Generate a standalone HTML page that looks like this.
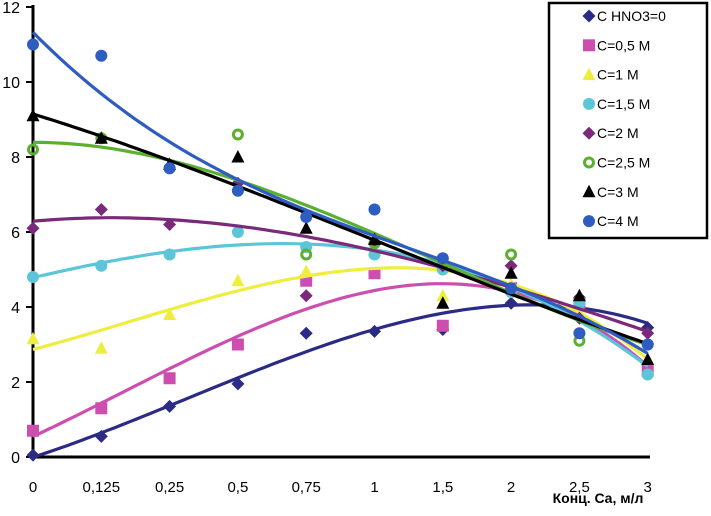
<!DOCTYPE html>
<html><head><meta charset="utf-8"><style>
body{margin:0;background:#fff;font-family:"Liberation Sans",sans-serif}
</style></head><body>
<svg id="c" width="711" height="511" xmlns="http://www.w3.org/2000/svg"></svg>
<script>
const categories=["0","0,125","0,25","0,5","0,75","1","1,5","2","2,5","3"];
const yTicks=[0,2,4,6,8,10,12];
const seriesNames=["C HNO3=0","C=0,5 M","C=1 M","C=1,5 M","C=2 M","C=2,5 M","C=3 M","C=4 M"];
const s0=[0.05,0.55,1.35,1.95,3.3,3.35,3.4,4.1,4.25,3.45];
const s1=[0.7,1.3,2.1,3.0,4.7,4.9,3.5,4.5,4.1,2.3];
const s2=[3.15,2.9,3.8,4.7,4.95,5.5,4.3,4.6,4.0,2.6];
const s3=[4.8,5.1,5.4,6.0,5.6,5.4,5.0,4.4,4.1,2.2];
const s4=[6.1,6.6,6.2,7.3,4.3,5.7,5.1,5.1,3.7,3.3];
const s5=[8.2,8.5,7.7,8.6,5.4,5.7,5.2,5.4,3.1,3.0];
const s6=[9.1,8.5,7.8,8.0,6.1,5.8,4.1,4.9,4.3,2.6];
const s7=[11.0,10.7,7.7,7.1,6.4,6.6,5.3,4.5,3.3,3.0];
const series=[s0,s1,s2,s3,s4,s5,s6,s7];
const colors=["#2b2b85","#cc4fb0","#eeee40","#5cc6d8","#7a2a7a","#5cb030","#000000","#2f5cc0"];
const shapes=["diamond","square","triangle","circle","diamond","ring","triangle","circle"];
const svg=document.getElementById('c');const NS="http://www.w3.org/2000/svg";
function xs(i){return 33+i*68.3;}
function ys(v){return 457-v*37.5;}
function mk(t,a,p){const e=document.createElementNS(NS,t);for(const k in a)e.setAttribute(k,a[k]);(p||svg).appendChild(e);return e;}
function marker(shape,x,y,col,g){
 let e;
 if(shape==="diamond")e=mk('polygon',{points:`${x},${y-6.5} ${x+6.5},${y} ${x},${y+6.5} ${x-6.5},${y}`,fill:col},g);
 else if(shape==="square")e=mk('rect',{x:x-6,y:y-6,width:12,height:12,fill:col},g);
 else if(shape==="triangle")e=mk('polygon',{points:`${x},${y-7} ${x+6.5},${y+5.5} ${x-6.5},${y+5.5}`,fill:col},g);
 else if(shape==="circle")e=mk('circle',{cx:x,cy:y,r:6,fill:col},g);
 else e=mk('circle',{cx:x,cy:y,r:4.5,fill:'none',stroke:col,'stroke-width':3},g);
 return e;
}
function fit(d,n){const m=n+1;const A=[];for(let r=0;r<m;r++){A.push(new Array(m+1).fill(0));}
 d.forEach((v,i)=>{for(let r=0;r<m;r++){for(let c=0;c<m;c++)A[r][c]+=Math.pow(i,r+c);A[r][m]+=v*Math.pow(i,r);}});
 for(let i=0;i<m;i++){for(let j=i+1;j<m;j++){const f=A[j][i]/A[i][i];for(let k=i;k<=m;k++)A[j][k]-=f*A[i][k];}}
 const c=new Array(m).fill(0);for(let i=m-1;i>=0;i--){let s=A[i][m];for(let k=i+1;k<m;k++)s-=A[i][k]*c[k];c[i]=s/A[i][i];}return c;}
const ax=mk('g',{});
mk('line',{x1:33,y1:5,x2:33,y2:458,stroke:'#000','stroke-width':3},ax);
mk('line',{x1:32,y1:457,x2:650,y2:457,stroke:'#000','stroke-width':3},ax);
yTicks.forEach(v=>{mk('line',{x1:26,y1:ys(v),x2:33,y2:ys(v),stroke:'#000','stroke-width':2},ax);
 const t=mk('text',{x:20,y:ys(v)+6,'text-anchor':'end','font-size':16},ax);t.textContent=v;
 });
categories.forEach((c,i)=>{const t=mk('text',{x:xs(i),y:492,'text-anchor':'middle','font-size':15},ax);t.textContent=c;
 });
const xt=mk('text',{x:598,y:503,'text-anchor':'middle','font-size':14,'font-weight':'bold'});xt.textContent="Конц. Ca, м/л";

series.forEach((d,si)=>{const g=mk('g',{});
 const c=fit(d,3);let p="";for(let t=0;t<=90;t++){const x=t/10;let v=0;c.forEach((k,j)=>v+=k*Math.pow(x,j));p+=(t?'L':'M')+xs(x).toFixed(1)+','+ys(v).toFixed(1);}
 const l=mk('path',{d:p,fill:'none',stroke:colors[si],'stroke-width':3.2},g);
 d.forEach((v,i)=>{const m=marker(shapes[si],xs(i),ys(v),colors[si],g);});
});
const lg=mk('g',{});
mk('rect',{x:549,y:3,width:158,height:235,fill:'#fff',stroke:'#000','stroke-width':2.5},lg);
seriesNames.forEach((n,i)=>{const y=16+i*29.3;const e=mk('g',{},lg);
 marker(shapes[i],589,y,colors[i],e);const t=mk('text',{x:597,y:y+5,'font-size':14},e);t.textContent=n;});
</script>
</body></html>
